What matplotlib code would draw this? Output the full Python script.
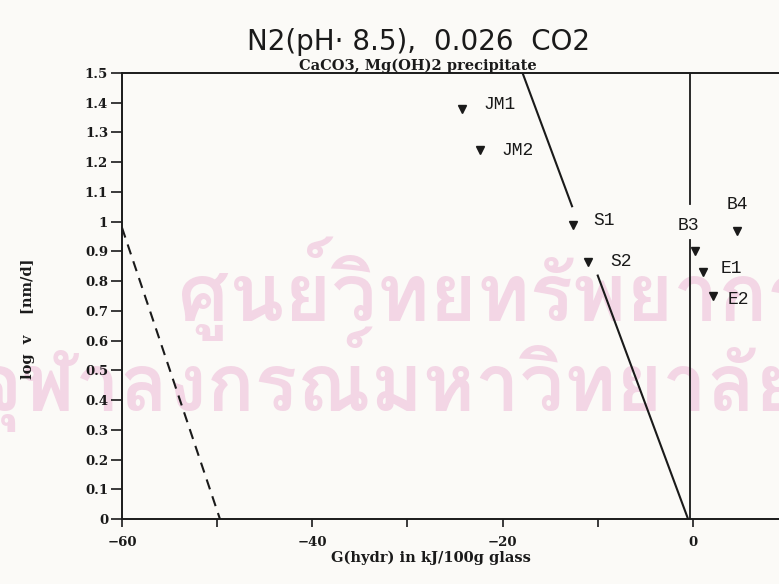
import matplotlib.pyplot as plt
from matplotlib import font_manager
from matplotlib.ft2font import FT2Font

# glass samples: hydration free energy vs. log dissolution rate
sample_names = ["JM1", "JM2", "S1", "S2", "B3", "E1", "E2", "B4"]
g_hydr = [-24.3, -22.4, -12.6, -11.0, 0.2, 1.1, 2.1, 4.6]
log_v = [1.38, 1.24, 0.99, 0.865, 0.90, 0.83, 0.75, 0.97]

# boundary lines (broken where the sample labels sit)
slope_upper_g = [-17.9, -12.7]
slope_upper_v = [1.5, 1.052]
slope_lower_g = [-10.0, -0.5]
slope_lower_v = [0.819, 0.0]
vert_upper_g = [-0.3, -0.3]
vert_upper_v = [1.5, 1.06]
vert_lower_g = [-0.3, -0.3]
vert_lower_v = [0.94, 0.0]
dashed_g = [-60.0, -49.7]
dashed_v = [0.98, 0.0]

x_ticks = [-60, -50, -40, -30, -20, -10, 0]
x_tick_labels = ["\u221260", "", "\u221240", "", "\u221220", "", "0"]
y_ticks = [0, 0.1, 0.2, 0.3, 0.4, 0.5, 0.6, 0.7, 0.8, 0.9, 1.0, 1.1, 1.2, 1.3, 1.4, 1.5]
y_tick_labels = ["0", "0.1", "0.2", "0.3", "0.4", "0.5", "0.6", "0.7", "0.8", "0.9",
                 "1", "1.1", "1.2", "1.3", "1.4", "1.5"]

stamp_lines = ["ศูนย์วิทยทรัพยากร", "จุฬาลงกรณ์มหาวิทยาลัย"]

# label placement in pixels relative to each marker
label_offsets = {
    "JM1": (22, 4, "left"), "JM2": (22, 0, "left"),
    "S1": (20, 4, "left"), "S2": (22, 0, "left"),
    "B3": (-6, 26, "center"), "B4": (1, 26, "center"),
    "E1": (17, 4, "left"), "E2": (15, -3, "left"),
}

paper = "#fbfaf7"
ink = "#1a1a1a"
stamp_color = "#f3d6e5"


def thai_font():
    # first installed font that actually has Thai glyphs, if any
    for entry in font_manager.fontManager.ttflist:
        try:
            cmap = FT2Font(entry.fname).get_charmap()
        except Exception:
            continue
        if ord("ศ") in cmap and ord("ย") in cmap:
            return entry.name
    return None


fig = plt.figure(figsize=(7.79, 5.84), dpi=100, facecolor=paper)

# library stamp behind the plot
stamp_family = thai_font()
if stamp_family:
    fig.text(0.635, 0.505, stamp_lines[0], ha="center", va="center", fontsize=58,
             family=stamp_family, fontweight="bold", color=stamp_color, zorder=0)
    fig.text(0.5, 0.35, stamp_lines[1], ha="center", va="center", fontsize=57,
             family=stamp_family, fontweight="bold", color=stamp_color, zorder=0)

ax = fig.add_axes([0.1566, 0.111, 0.855, 0.764])
ax.set_zorder(2)
ax.patch.set_alpha(0)

ax.plot(slope_upper_g, slope_upper_v, color=ink, lw=1.5)
ax.plot(slope_lower_g, slope_lower_v, color=ink, lw=1.5)
ax.plot(vert_upper_g, vert_upper_v, color=ink, lw=1.3)
ax.plot(vert_lower_g, vert_lower_v, color=ink, lw=1.3)
ax.plot(dashed_g, dashed_v, color=ink, lw=1.5, linestyle=(0, (5, 3.5)))

ax.plot(g_hydr, log_v, linestyle="none", marker="v", markersize=6,
        color=ink, clip_on=False)

for name, gx, vy in zip(sample_names, g_hydr, log_v):
    dx, dy, ha = label_offsets[name]
    ax.annotate(name, (gx, vy), xytext=(dx, dy), textcoords="offset pixels",
                ha=ha, va="center", fontsize=13, family="Liberation Mono",
                color=ink, annotation_clip=False)

ax.set_xlim(-60, 10)
ax.set_ylim(0, 1.5)
ax.set_xticks(x_ticks)
ax.set_xticklabels(x_tick_labels)
ax.set_yticks(y_ticks)
ax.set_yticklabels(y_tick_labels)

for side in ["left", "bottom", "top", "right"]:
    ax.spines[side].set_linewidth(1.4)
    ax.spines[side].set_color(ink)

ax.tick_params(axis="y", direction="out", length=8, width=1.2, pad=2,
               labelsize=9.5, colors=ink)
ax.tick_params(axis="x", direction="out", length=6, width=1.2, pad=6,
               labelsize=9.5, colors=ink)
for lbl in ax.get_xticklabels() + ax.get_yticklabels():
    lbl.set_family("DejaVu Serif")
    lbl.set_fontweight("bold")

fig.text(0.537, 0.928, "N2(pH\u00b7 8.5),  0.026  CO2", ha="center", va="center",
         fontsize=20, family="DejaVu Sans", color=ink, zorder=3)
fig.text(0.537, 0.888, "CaCO3, Mg(OH)2 precipitate", ha="center", va="center",
         fontsize=10.5, family="DejaVu Serif", fontweight="bold", color=ink, zorder=3)
fig.text(0.553, 0.045, "G(hydr) in kJ/100g glass", ha="center", va="center",
         fontsize=10.5, family="DejaVu Serif", fontweight="bold", color=ink, zorder=3)
fig.text(0.036, 0.455, "log  v    [nm/d]", ha="center", va="center", rotation=90,
         fontsize=10.5, family="DejaVu Serif", fontweight="bold", color=ink, zorder=3)

fig.savefig("out.png", dpi=100, facecolor=paper)
